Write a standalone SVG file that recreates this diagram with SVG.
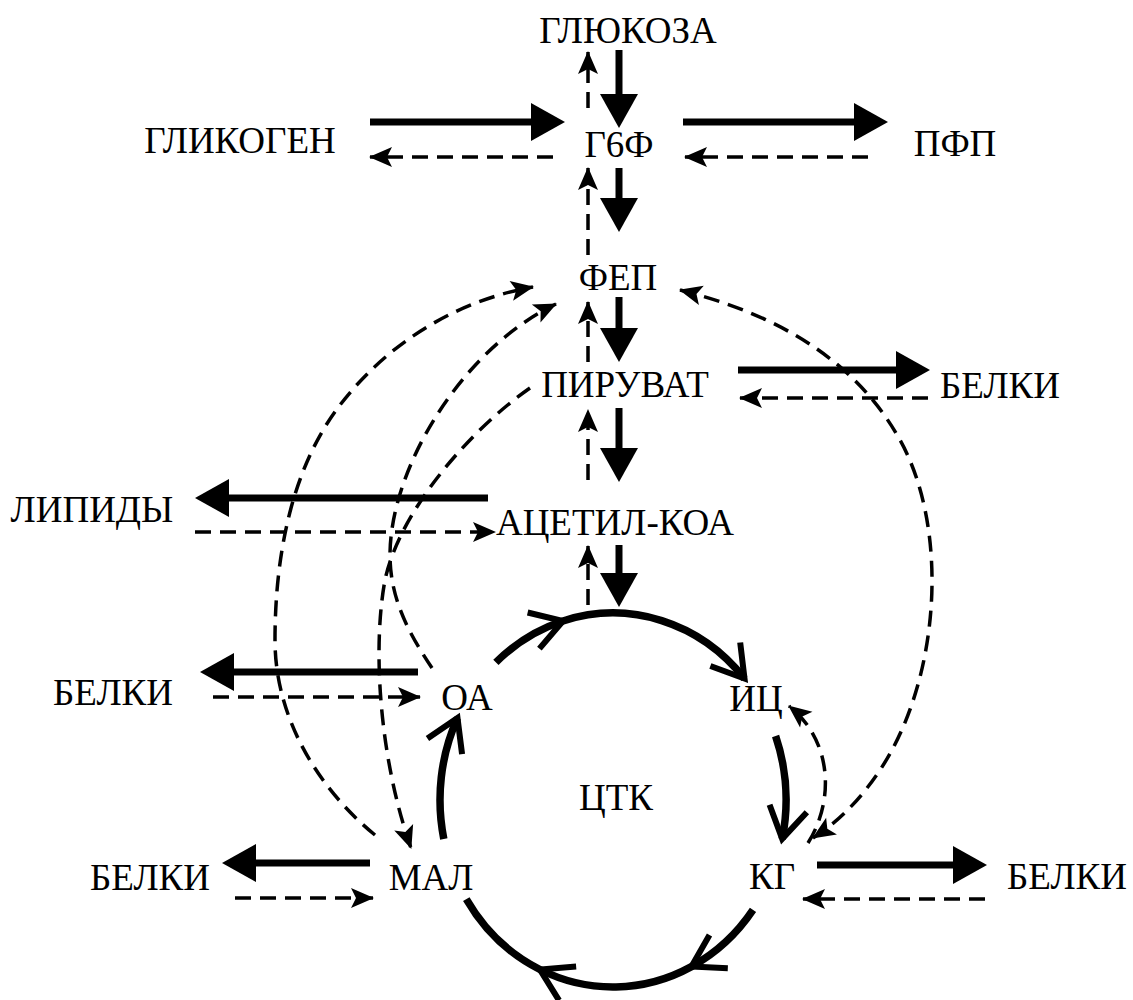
<svg xmlns="http://www.w3.org/2000/svg" width="1133" height="1000" viewBox="0 0 1133 1000" font-family="'Liberation Serif', 'Times New Roman', serif">
<style>
text{font-size:37px;fill:#000;text-anchor:middle}
.s{stroke:#000;stroke-width:7;fill:none;marker-end:url(#ah)}
.d{stroke:#000;stroke-width:3.5;fill:none;stroke-dasharray:16 9;marker-end:url(#dh)}
.c{stroke:#000;stroke-width:7.5;fill:none}
</style>
<defs>
<marker id="ah" markerUnits="userSpaceOnUse" orient="auto" viewBox="-40 -25 80 50" markerWidth="80" markerHeight="50" refX="0" refY="0"><path d="M20,0 L-14,-19 L-14,19 Z" fill="#000"/></marker>
<marker id="dh" markerUnits="userSpaceOnUse" orient="auto-start-reverse" viewBox="-40 -25 80 50" markerWidth="80" markerHeight="50" refX="0" refY="0"><path d="M1,0 L-22,-10 L-17,0 L-22,10 Z" fill="#000"/></marker>
<marker id="ch" markerUnits="userSpaceOnUse" orient="auto" viewBox="-40 -25 80 50" markerWidth="80" markerHeight="50" refX="0" refY="0"><path d="M-31,-19 L0,0 L-31,19" fill="none" stroke="#000" stroke-width="6"/></marker>
</defs>
<rect width="1133" height="1000" fill="#fff"/>
<g id="connectors">
<path class="s" d="M619,50 V108"/>
<path class="d" d="M588,108 V52"/>
<path class="s" d="M619,168 V212"/>
<path class="d" d="M588,255 V168"/>
<path class="s" d="M619,297 V342"/>
<path class="d" d="M588,362 V302"/>
<path class="s" d="M619,408 V462"/>
<path class="d" d="M588,480 V410"/>
<path class="s" d="M619,545 V587"/>
<path class="d" d="M588,605 V546"/>
<path class="s" d="M370,122 H545"/>
<path class="d" d="M553,157 H370"/>
<path class="s" d="M683,122 H868"/>
<path class="d" d="M868,157 H685"/>
<path class="s" d="M738,370 H910"/>
<path class="d" d="M928,398 H740"/>
<path class="s" d="M488,498 H215"/>
<path class="d" d="M195,532 H495"/>
<path class="s" d="M418,672 H220"/>
<path class="d" d="M213,697 H420"/>
<path class="s" d="M370,863 H242"/>
<path class="d" d="M235,898 H373"/>
<path class="s" d="M817,865 H967"/>
<path class="d" d="M985,899 H803"/>
<path class="c" d="M495.9,662.3 A173,187 0 0 1 563,621 A173,187 0 0 1 744.5,678.6" marker-mid="url(#ch)" marker-end="url(#ch)"/>
<path class="c" d="M775.6,736 A173,187 0 0 1 782.2,838.9" marker-end="url(#ch)"/>
<path class="c" d="M753,909.9 A173,187 0 0 1 691.5,966.6 A173,187 0 0 1 539.9,969.5 A173,187 0 0 1 466.3,899.1" marker-mid="url(#ch)"/>
<path class="c" d="M443.8,838.9 A173,187 0 0 1 457.5,718" marker-end="url(#ch)"/>
<path class="d" d="M375,835 C320,790 275,720 275,640 C275,560 290,470 340,405 C390,340 460,300 533,287"/>
<path class="d" d="M432,668 C410,635 390,600 390,555 C390,470 460,350 556,304"/>
<path class="d" d="M530,388 C470,430 400,510 385,580 C372,650 380,760 411,848"/>
<path class="d" d="M680,290 C760,310 850,350 900,440 C950,530 940,680 880,770 C860,800 838,822 813,838" marker-start="url(#dh)"/>
<path class="d" d="M808,843 C835,800 832,740 789,706"/>
</g>
<g id="n-glucose"><text x="628" y="43">ГЛЮКОЗА</text></g>
<g id="n-glycogen"><text x="240" y="153">ГЛИКОГЕН</text></g>
<g id="n-g6f"><text x="619" y="157">Г6Ф</text></g>
<g id="n-pfp"><text x="955" y="156">ПФП</text></g>
<g id="n-fep"><text x="618" y="290">ФЕП</text></g>
<g id="n-pyruvate"><text x="625" y="397">ПИРУВАТ</text></g>
<g id="n-proteins1"><text x="1000" y="398">БЕЛКИ</text></g>
<g id="n-lipids"><text x="92" y="522">ЛИПИДЫ</text></g>
<g id="n-acetylcoa"><text x="615" y="535">АЦЕТИЛ-КОА</text></g>
<g id="n-proteins2"><text x="113" y="705">БЕЛКИ</text></g>
<g id="n-oa"><text x="467" y="710">ОА</text></g>
<g id="n-ic"><text x="756" y="711">ИЦ</text></g>
<g id="n-tca"><text x="616" y="810">ЦТК</text></g>
<g id="n-proteins3"><text x="150" y="890">БЕЛКИ</text></g>
<g id="n-mal"><text x="431" y="890">МАЛ</text></g>
<g id="n-kg"><text x="772" y="889">КГ</text></g>
<g id="n-proteins4"><text x="1067" y="889">БЕЛКИ</text></g>
</svg>
